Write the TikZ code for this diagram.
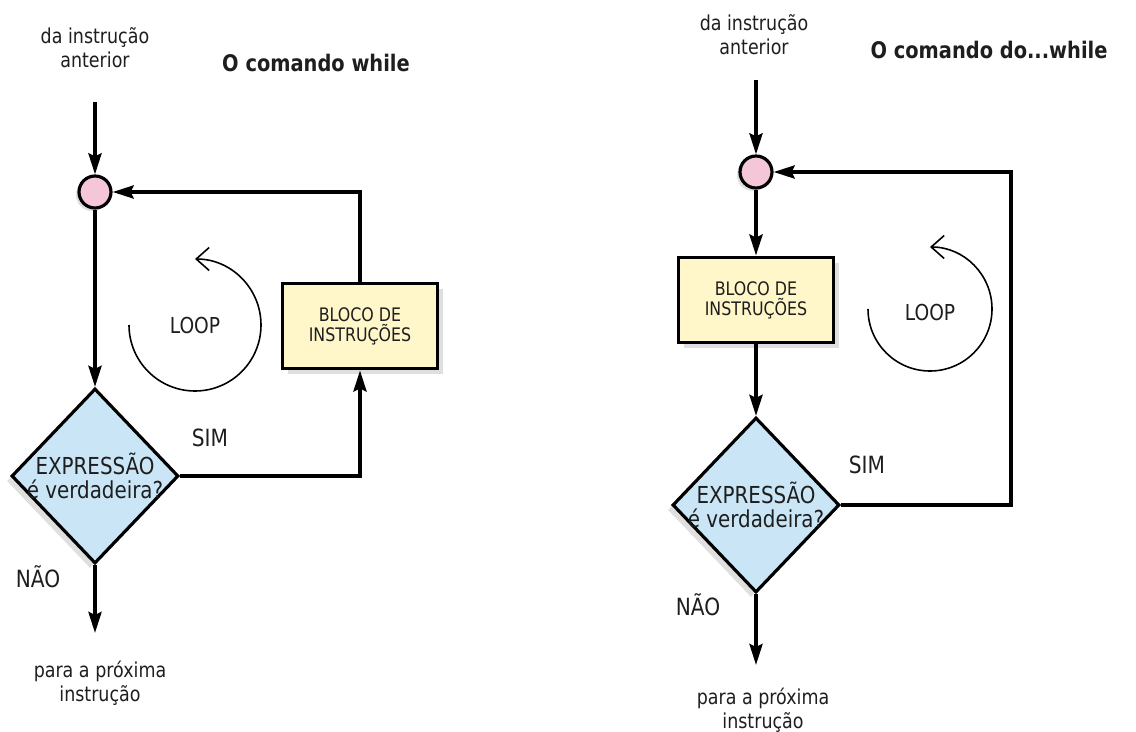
\documentclass[tikz,border=0pt]{standalone}
\usepackage{fontspec}
\setmainfont{DejaVu Sans}[FakeStretch=0.85]
\usepackage{tikz}
\usetikzlibrary{arrows.meta, positioning, calc, shapes.geometric, shadows}
\definecolor{juncpink}{RGB}{244,198,216}
\definecolor{blkyellow}{RGB}{255,247,202}
\definecolor{condblue}{RGB}{202,230,246}
\definecolor{ink}{RGB}{30,30,30}
\tikzset{
  blk/.style={draw, line width=2.2pt, fill=blkyellow, minimum width=31mm, minimum height=17mm,
    align=center, text=ink, font=\fontsize{10.6}{11.5}\selectfont,
    drop shadow={shadow xshift=1mm, shadow yshift=-1mm, opacity=0.25}},
  cond/.style={draw, diamond, line width=1.8pt, fill=condblue, minimum width=33.4mm,
    minimum height=35mm, inner sep=0pt,
    drop shadow={shadow xshift=-1mm, shadow yshift=-1mm, opacity=0.25}},
  condtxt/.style={align=center, text=ink, font=\fontsize{13.3}{13.5}\selectfont},
  junc/.style={draw, circle, line width=1.8pt, fill=juncpink, minimum size=6.4mm, inner sep=0pt,
    drop shadow={shadow xshift=-0.6mm, shadow yshift=-0.6mm, opacity=0.25}},
  arr/.style={-{Stealth[length=4.2mm, width=2.6mm, inset=0.6mm]}, line width=2.1pt},
  looparr/.style={-{Straight Barb[length=2.6mm, width=4.6mm]}, line width=0.9pt},
  lbl/.style={align=center, text=ink, font=\fontsize{11.7}{13.5}\selectfont},
  ttl/.style={text=ink, font=\bfseries\fontsize{13}{15}\selectfont},
  yn/.style={text=ink, font=\fontsize{13.5}{15}\selectfont},
}
\begin{document}
\begin{tikzpicture}[x=0.2mm, y=-0.2mm]
  \useasboundingbox (0,0) rectangle (1136,731);

  % o comando while
  \node[lbl] (srcL) at (95,48) {da instrução\\anterior};
  \node[ttl] (titL) at (316,63) {O comando while};
  \coordinate (inL) at (95,102);
  \node[junc] (jL) at (95,192) {};
  \node[cond, label={[condtxt]center:EXPRESSÃO\\é verdadeira?}] (cL) at (95,476) {};
  \node[blk] (bL) at (360,326) {BLOCO DE\\INSTRUÇÕES};
  \coordinate (outL) at (95,633);
  \node[lbl] (dstL) at (100,683) {para a próxima\\instrução};
  \node[yn] (simL) at (210,438) {SIM};
  \node[yn] (naoL) at (38,577) {NÃO};
  \node[text=ink, font=\fontsize{12.5}{14}\selectfont] (loopL) at (195,325) {LOOP};

  \draw[arr] (inL) -- (jL);
  \draw[arr] (jL) -- (cL.north);
  \draw[arr] (cL.east) -| (bL.south);
  \draw[arr] (bL.north) |- (jL.east);
  \draw[arr] (cL.south) -- (outL);
  \draw[looparr] ([xshift=-13.2mm]loopL.center) arc[start angle=180, end angle=450, radius=13.2mm];

  % o comando do...while
  \node[lbl] (srcR) at (754,35) {da instrução\\anterior};
  \node[ttl] (titR) at (989,50) {O comando do...while};
  \coordinate (inR) at (756,80);
  \node[junc] (jR) at (756,172) {};
  \node[blk] (bR) at (756,300) {BLOCO DE\\INSTRUÇÕES};
  \node[cond, label={[condtxt]center:EXPRESSÃO\\é verdadeira?}] (cR) at (756,505) {};
  \coordinate (backR) at (1011,172);
  \coordinate (outR) at (756,665);
  \node[lbl] (dstR) at (763,710) {para a próxima\\instrução};
  \node[yn] (simR) at (867,465) {SIM};
  \node[yn] (naoR) at (698,605) {NÃO};
  \node[text=ink, font=\fontsize{12.5}{14}\selectfont] (loopR) at (930,312) {LOOP};

  \draw[arr] (inR) -- (jR);
  \draw[arr] (jR) -- (bR.north);
  \draw[arr] (bR.south) -- (cR.north);
  \draw[arr] (cR.east) -| (backR) -- (jR.east);
  \draw[arr] (cR.south) -- (outR);
  \draw[looparr] ([xshift=-12.4mm,yshift=0.6mm]loopR.center) arc[start angle=180, end angle=450, radius=12.4mm];
\end{tikzpicture}
\end{document}
